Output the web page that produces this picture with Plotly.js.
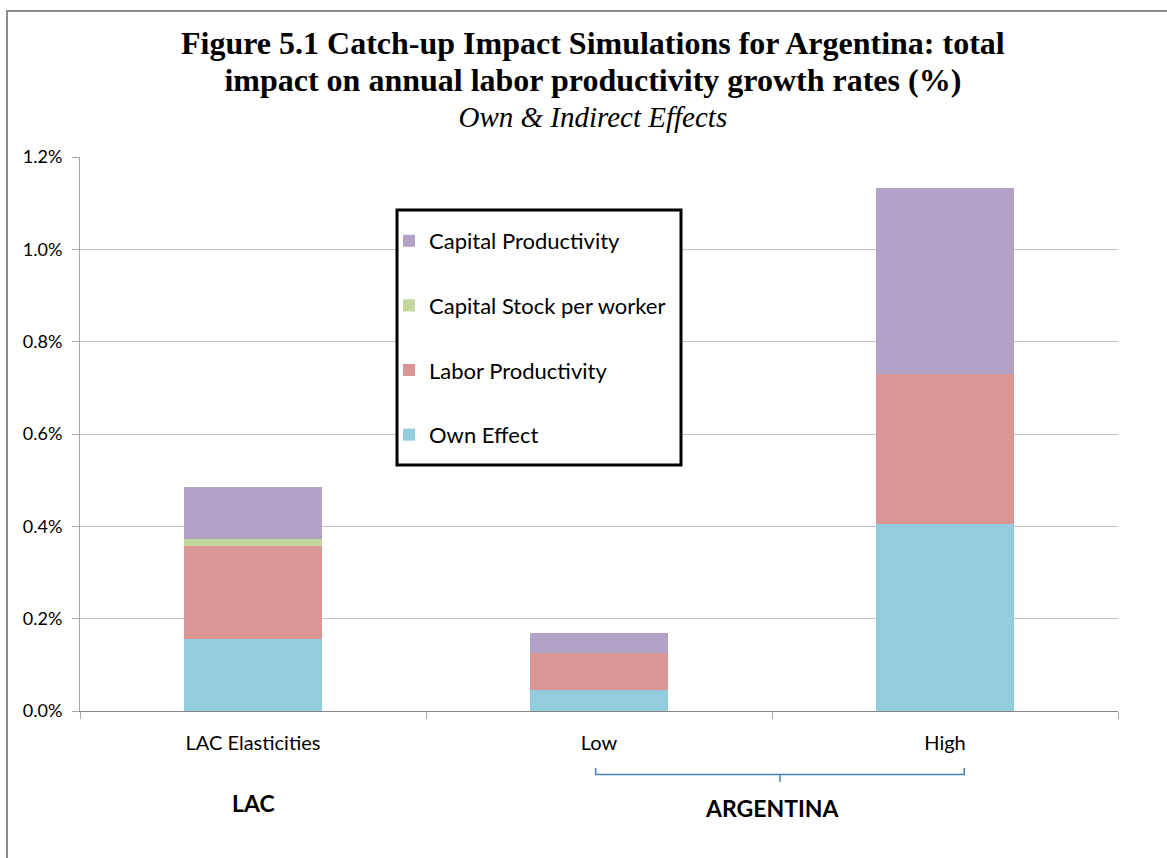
<!DOCTYPE html>
<html>
<head>
<meta charset="utf-8">
<script src="https://cdn.plot.ly/plotly-3.0.1.min.js"></script>
<style>
  html, body { margin: 0; padding: 0; background: #fff; }
  #wrap { position: relative; width: 1167px; height: 858px; overflow: hidden; }
  #frame { position: absolute; left: 6px; top: 10px; width: 1300px; height: 1000px;
           border-top: 2px solid #8c8c8c; border-left: 2px solid #8c8c8c; pointer-events: none; }
  #chart { position: absolute; left: 0; top: 0; width: 1167px; height: 858px; }
</style>
</head>
<body>
<div id="wrap">
  <div id="chart"></div>
  <div id="frame"></div>
</div>
<script>
// Categories (x-axis) and group labels
const categories = ["LAC Elasticities", "Low", "High"];
const groupLabels = ["LAC", "ARGENTINA"];

// Series values (% per year)
const ownEffect          = [0.155, 0.045, 0.405];
const laborProductivity  = [0.202, 0.080, 0.325];
const capitalStockWorker = [0.015, 0.000, 0.000];
const capitalProductivity= [0.114, 0.043, 0.402];

const seriesNames  = ["Own Effect", "Labor Productivity", "Capital Stock per worker", "Capital Productivity"];
const seriesValues = [ownEffect, laborProductivity, capitalStockWorker, capitalProductivity];
const seriesColors = ["#93cddd", "#d99694", "#c3d69b", "#b3a2c7"];

const traces = seriesNames.map((name, i) => ({
  type: "bar",
  name: name,
  x: categories,
  y: seriesValues[i],
  legendgroup: "g" + i,
  legendrank: 100 - i,
  marker: { color: seriesColors[i], line: { width: 0 } },
  hovertemplate: "%{x}: %{y:.3f}%<extra>" + name + "</extra>"
}));

const font = "Lato, 'Liberation Sans', sans-serif";

const layout = {
  width: 1167,
  height: 858,
  paper_bgcolor: "#ffffff",
  plot_bgcolor: "#ffffff",
  barmode: "stack",
  bargap: 0.6,
  margin: { l: 80, r: 49, t: 157, b: 147 },
  title: {
    text: "<b><span style='font-size:32px'>Figure 5.1 Catch-up Impact Simulations for Argentina: total</span><br><span style='font-size:32px'>impact on annual labor productivity growth rates (%)</span></b><br><i><span style='font-size:29px'>Own &amp; Indirect Effects</span></i>",
    x: 0.508,
    xanchor: "center",
    y: 0.9365,
    yanchor: "top",
    font: { family: "'Liberation Serif', 'DejaVu Serif', serif", size: 28, color: "#000000" }
  },
  xaxis: {
    type: "category",
    tickson: "boundaries",
    ticks: "outside",
    ticklen: 7,
    tickcolor: "#a6a6a6",
    ticklabelstandoff: 14,
    showline: true,
    linecolor: "#868686",
    linewidth: 1,
    showgrid: false,
    tickfont: { family: font, size: 20, color: "#000000" },
    automargin: false
  },
  yaxis: {
    range: [0, 1.2],
    dtick: 0.2,
    tick0: 0,
    tickformat: ".1f",
    ticksuffix: "%",
    ticks: "outside",
    ticklen: 7,
    tickcolor: "#a6a6a6",
    ticklabelstandoff: 6,
    showline: true,
    linecolor: "#a6a6a6",
    linewidth: 1,
    showgrid: true,
    gridcolor: "#c0c0c0",
    gridwidth: 1,
    zeroline: false,
    tickfont: { family: font, size: 18, color: "#000000" },
    automargin: false
  },
  legend: {
    x: 0.2977,
    y: 0.8863,
    xanchor: "left",
    yanchor: "top",
    traceorder: "grouped",
    tracegroupgap: 33,
    bgcolor: "rgba(0,0,0,0)",
    borderwidth: 0,
    font: { family: font, size: 22, color: "#000000" },
    itemwidth: 30
  },
  shapes: [
    {
      type: "rect",
      xref: "paper", yref: "paper",
      x0: 0.3054, x1: 0.579, y0: 0.444, y1: 0.9043,
      layer: "above",
      fillcolor: "#ffffff",
      line: { color: "#000000", width: 3 }
    },
    {
      type: "path",
      xref: "paper", yref: "paper",
      path: "M 0.4968,-0.1030 L 0.4968,-0.1144 L 0.8519,-0.1144 L 0.8519,-0.1030 M 0.6744,-0.1144 L 0.6744,-0.1282",
      line: { color: "#4a7ebb", width: 1.5 }
    }
  ],
  annotations: [
    { text: "<b>" + groupLabels[0] + "</b>", xref: "paper", yref: "paper", x: 0.1667, y: -0.166,
      xanchor: "center", yanchor: "middle", showarrow: false,
      font: { family: font, size: 23, color: "#000000" } },
    { text: "<b>" + groupLabels[1] + "</b>", xref: "paper", yref: "paper", x: 0.6667, y: -0.175,
      xanchor: "center", yanchor: "middle", showarrow: false,
      font: { family: font, size: 23, color: "#000000" } }
  ],
  showlegend: true
};

Plotly.newPlot("chart", traces, layout, { displayModeBar: false, responsive: false });
</script>
</body>
</html>
